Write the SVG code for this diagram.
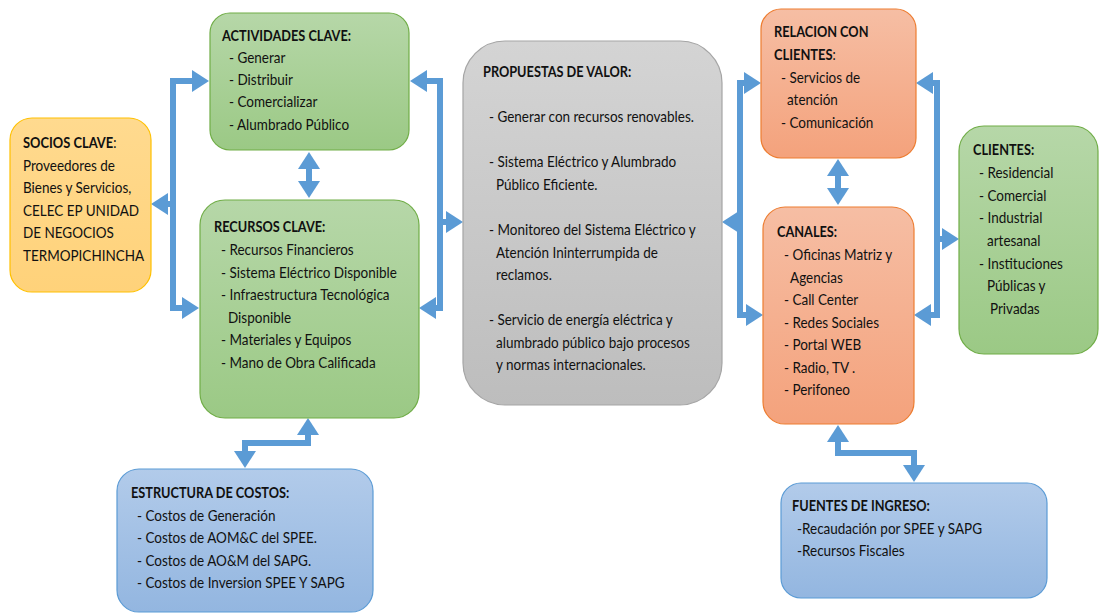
<svg xmlns="http://www.w3.org/2000/svg" width="1099" height="614" viewBox="0 0 1099 614">
<style>
text{font-family:Lato,"Liberation Sans",sans-serif;font-size:15px;fill:#111}
.b{font-weight:bold}
.conn path{fill:none;stroke:#5b9bd5;stroke-width:6;stroke-linejoin:miter}
.grn{fill:url(#gG);stroke:#70ad47;stroke-width:1.2}
.org{fill:url(#gO);stroke:#ed7d31;stroke-width:1.2}
.gry{fill:url(#gS);stroke:#a5a5a5;stroke-width:1.2}
.blu{fill:url(#gB);stroke:#5b9bd5;stroke-width:1.2}
.yel{fill:url(#gY);stroke:#ffc000;stroke-width:1.2}
</style>
<defs>
<linearGradient id="gG" x1="0" y1="0" x2="0" y2="1"><stop offset="0" stop-color="#b6d7a8"/><stop offset="1" stop-color="#9bc985"/></linearGradient>
<linearGradient id="gO" x1="0" y1="0" x2="0" y2="1"><stop offset="0" stop-color="#f6bea4"/><stop offset="1" stop-color="#f4a27c"/></linearGradient>
<linearGradient id="gS" x1="0" y1="0" x2="0" y2="1"><stop offset="0" stop-color="#d4d4d4"/><stop offset="1" stop-color="#bdbdbd"/></linearGradient>
<linearGradient id="gB" x1="0" y1="0" x2="0" y2="1"><stop offset="0" stop-color="#b2cbea"/><stop offset="1" stop-color="#93b6e0"/></linearGradient>
<linearGradient id="gY" x1="0" y1="0" x2="0" y2="1"><stop offset="0" stop-color="#ffda8f"/><stop offset="1" stop-color="#ffd27a"/></linearGradient>
<marker id="ah" markerUnits="userSpaceOnUse" markerWidth="18" markerHeight="22" refX="0" refY="11" orient="auto-start-reverse" overflow="visible">
<path d="M0,0 L17,11 L0,22 Z" fill="#5b9bd5"/>
</marker>
</defs>
<rect width="1099" height="614" fill="#fff"/>

<g id="connectors" class="conn">
<path d="M192,81 H173 V308 H182" marker-start="url(#ah)" marker-end="url(#ah)"/>
<path d="M176,204 H168" marker-end="url(#ah)"/>
<path d="M427,81 H440 V308 H436" marker-start="url(#ah)" marker-end="url(#ah)"/>
<path d="M437,222 H446" marker-end="url(#ah)"/>
<path d="M744,83 H740 V315 H746" marker-start="url(#ah)" marker-end="url(#ah)"/>
<path d="M743,222 H739" marker-end="url(#ah)"/>
<path d="M933,83 H937 V315 H931" marker-start="url(#ah)" marker-end="url(#ah)"/>
<path d="M934,239 H942" marker-end="url(#ah)"/>
<path d="M309,169 V181" marker-start="url(#ah)" marker-end="url(#ah)"/>
<path d="M838,176 V188" marker-start="url(#ah)" marker-end="url(#ah)"/>
<path d="M308,435 V443 H245 V451" marker-start="url(#ah)" marker-end="url(#ah)"/>
<path d="M838,442 V453 H914 V465" marker-start="url(#ah)" marker-end="url(#ah)"/>
</g>

<g id="actividades">
<rect class="grn" x="210" y="13" width="199" height="137" rx="20"/>
<text class="b" transform="translate(222,41) scale(0.85,1)">ACTIVIDADES CLAVE:</text>
<text transform="translate(229,63) scale(0.9,1)">- Generar</text>
<text transform="translate(229,85) scale(0.9,1)">- Distribuir</text>
<text transform="translate(229,107) scale(0.9,1)">- Comercializar</text>
<text transform="translate(229,129.5) scale(0.9,1)">- Alumbrado Público</text>
</g>

<g id="socios">
<rect class="yel" x="10" y="118" width="141" height="174" rx="22"/>
<text transform="translate(23,148) scale(0.86,1)"><tspan class="b">SOCIOS CLAVE</tspan>:</text>
<text transform="translate(23,170.5) scale(0.9,1)">Proveedores de</text>
<text transform="translate(23,193) scale(0.9,1)">Bienes y Servicios,</text>
<text transform="translate(23,215.5) scale(0.9,1)">CELEC EP UNIDAD</text>
<text transform="translate(23,238) scale(0.9,1)">DE NEGOCIOS</text>
<text transform="translate(23,260.5) scale(0.9,1)">TERMOPICHINCHA</text>
</g>

<g id="recursos">
<rect class="grn" x="200" y="200" width="219" height="218" rx="25"/>
<text class="b" transform="translate(214,232) scale(0.85,1)">RECURSOS CLAVE:</text>
<text transform="translate(221,255) scale(0.9,1)">- Recursos Financieros</text>
<text transform="translate(221,277.5) scale(0.9,1)">- Sistema Eléctrico Disponible</text>
<text transform="translate(221,300) scale(0.9,1)">- Infraestructura Tecnológica</text>
<text transform="translate(228,322.5) scale(0.9,1)">Disponible</text>
<text transform="translate(221,345) scale(0.9,1)">- Materiales y Equipos</text>
<text transform="translate(221,367.5) scale(0.9,1)">- Mano de Obra Calificada</text>
</g>

<g id="costos">
<rect class="blu" x="117" y="469" width="256" height="143" rx="22"/>
<text class="b" transform="translate(131,498) scale(0.85,1)">ESTRUCTURA DE COSTOS:</text>
<text transform="translate(137,520.5) scale(0.9,1)">- Costos de Generación</text>
<text transform="translate(137,543) scale(0.9,1)">- Costos de AOM&amp;C del SPEE.</text>
<text transform="translate(137,565.5) scale(0.9,1)">- Costos de AO&amp;M del SAPG.</text>
<text transform="translate(137,588) scale(0.9,1)">- Costos de Inversion SPEE Y SAPG</text>
</g>

<g id="propuestas">
<rect class="gry" x="463" y="41" width="259" height="364" rx="42"/>
<text class="b" transform="translate(483,77) scale(0.85,1)">PROPUESTAS DE VALOR:</text>
<text transform="translate(489,122) scale(0.9,1)">- Generar con recursos renovables.</text>
<text transform="translate(489,167) scale(0.9,1)">- Sistema Eléctrico y Alumbrado</text>
<text transform="translate(496,190) scale(0.9,1)">Público Eficiente.</text>
<text transform="translate(489,235) scale(0.9,1)">- Monitoreo del Sistema Eléctrico y</text>
<text transform="translate(496,258) scale(0.9,1)">Atención Ininterrumpida de</text>
<text transform="translate(496,280) scale(0.9,1)">reclamos.</text>
<text transform="translate(489,325) scale(0.9,1)">- Servicio de energía eléctrica y</text>
<text transform="translate(496,348) scale(0.9,1)">alumbrado público bajo procesos</text>
<text transform="translate(496,370) scale(0.9,1)">y normas internacionales.</text>
</g>

<g id="relacion">
<rect class="org" x="761" y="9" width="155" height="149" rx="20"/>
<text class="b" transform="translate(774,37) scale(0.85,1)">RELACION CON</text>
<text transform="translate(774,60) scale(0.86,1)"><tspan class="b">CLIENTES</tspan>:</text>
<text transform="translate(781,83) scale(0.9,1)">- Servicios de</text>
<text transform="translate(787,105) scale(0.9,1)">atención</text>
<text transform="translate(781,128) scale(0.9,1)">- Comunicación</text>
</g>

<g id="canales">
<rect class="org" x="763" y="207" width="151" height="217" rx="22"/>
<text class="b" transform="translate(777,237) scale(0.85,1)">CANALES:</text>
<text transform="translate(784,260) scale(0.9,1)">- Oficinas Matriz y</text>
<text transform="translate(790,282.5) scale(0.9,1)">Agencias</text>
<text transform="translate(784,305) scale(0.9,1)">- Call Center</text>
<text transform="translate(784,327.5) scale(0.9,1)">- Redes Sociales</text>
<text transform="translate(784,350) scale(0.9,1)">- Portal WEB</text>
<text transform="translate(784,372.5) scale(0.9,1)">- Radio, TV .</text>
<text transform="translate(784,395) scale(0.9,1)">- Perifoneo</text>
</g>

<g id="clientes">
<rect class="grn" x="959" y="126" width="139" height="228" rx="25"/>
<text class="b" transform="translate(973,155) scale(0.85,1)">CLIENTES:</text>
<text transform="translate(979,178) scale(0.9,1)">- Residencial</text>
<text transform="translate(979,200.5) scale(0.9,1)">- Comercial</text>
<text transform="translate(979,223) scale(0.9,1)">- Industrial</text>
<text transform="translate(987,246) scale(0.9,1)">artesanal</text>
<text transform="translate(979,268.5) scale(0.9,1)">- Instituciones</text>
<text transform="translate(987,291) scale(0.9,1)">Públicas y</text>
<text transform="translate(990,313.5) scale(0.9,1)">Privadas</text>
</g>

<g id="fuentes">
<rect class="blu" x="781" y="483" width="266" height="115" rx="20"/>
<text class="b" transform="translate(792,511) scale(0.85,1)">FUENTES DE INGRESO:</text>
<text transform="translate(797,533.5) scale(0.9,1)">-Recaudación por SPEE y SAPG</text>
<text transform="translate(797,556) scale(0.9,1)">-Recursos Fiscales</text>
</g>
</svg>
